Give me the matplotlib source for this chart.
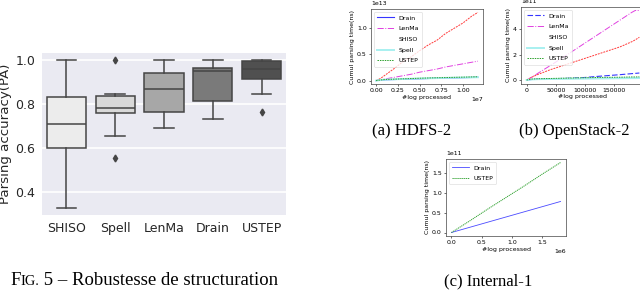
import numpy as np
import matplotlib
matplotlib.use("Agg")
import matplotlib.pyplot as plt

plt.rcParams['font.family'] = ['DejaVu Sans']

# box plot stats (parsing accuracy)
box_names = ["SHISO", "Spell", "LenMa", "Drain", "USTEP"]
box_whislo = [0.325, 0.655, 0.690, 0.733, 0.847]
box_q1 = [0.601, 0.758, 0.765, 0.813, 0.915]
box_med = [0.709, 0.783, 0.869, 0.952, 0.957]
box_q3 = [0.830, 0.835, 0.939, 0.966, 0.994]
box_whishi = [1.0, 0.845, 1.0, 1.0, 1.0]
box_fliers = [[], [1.0, 0.555], [], [], [0.765]]
box_colors = ['#ececec', '#d9d9d9', '#a7a7a7', '#7a7a7a', '#505050']

# HDFS-2 cumulative time
hdfs_x = np.array([0.0, 0.05, 0.1, 0.2, 0.3, 0.4, 0.5, 0.6, 0.7, 0.8, 0.9, 1.0, 1.1, 1.17]) * 1e7
hdfs_shiso = np.array([0, 0.04, 0.1, 0.22, 0.35, 0.45, 0.57, 0.68, 0.77, 0.9, 1.0, 1.1, 1.23, 1.3]) * 1e13
hdfs_lenma = np.array([0, 0.01, 0.03, 0.06, 0.09, 0.12, 0.16, 0.19, 0.22, 0.26, 0.29, 0.32, 0.35, 0.37]) * 1e13
hdfs_drain = np.array([0, 0.01, 0.015, 0.02, 0.025, 0.03, 0.035, 0.04, 0.045, 0.05, 0.052, 0.056, 0.06, 0.063]) * 1e13
hdfs_spell = np.array([0, 0.012, 0.018, 0.024, 0.03, 0.035, 0.04, 0.044, 0.048, 0.052, 0.055, 0.058, 0.061, 0.064]) * 1e13
hdfs_ustep = np.array([0, 0.012, 0.02, 0.027, 0.033, 0.039, 0.045, 0.05, 0.054, 0.058, 0.062, 0.066, 0.07, 0.073]) * 1e13
hdfs_xticks = [0, 0.25e7, 0.5e7, 0.75e7, 1.0e7]
hdfs_yticks = [0, 0.5e13, 1.0e13]

# OpenStack-2 cumulative time
os_x = np.array([0, 10, 20, 40, 60, 80, 100, 120, 140, 160, 180, 186, 193]) * 1e3
os_lenma = np.array([0, 0.25, 0.55, 1.12, 1.7, 2.3, 2.9, 3.5, 4.1, 4.7, 5.3, 5.45, 5.45]) * 1e11
os_shiso = np.array([0, 0.25, 0.45, 0.8, 1.1, 1.4, 1.7, 2.0, 2.3, 2.6, 3.0, 3.15, 3.35]) * 1e11
os_drain = np.array([0, 0.05, 0.08, 0.1, 0.12, 0.15, 0.2, 0.28, 0.35, 0.42, 0.5, 0.52, 0.55]) * 1e11
os_spell = np.array([0, 0.05, 0.07, 0.08, 0.09, 0.1, 0.11, 0.12, 0.13, 0.14, 0.15, 0.15, 0.16]) * 1e11
os_ustep = np.array([0, 0.08, 0.1, 0.12, 0.14, 0.16, 0.18, 0.2, 0.21, 0.22, 0.24, 0.24, 0.25]) * 1e11
os_xticks = [0, 50000, 100000, 150000]
os_yticks = [0, 2e11, 4e11]

# Internal-1 cumulative time
int_x = np.array([0, 0.3, 0.6, 0.9, 1.2, 1.5, 1.8]) * 1e6
int_drain = np.array([0, 0.13, 0.26, 0.39, 0.52, 0.65, 0.78]) * 1e11
int_ustep = np.array([0, 0.29, 0.59, 0.88, 1.17, 1.47, 1.76]) * 1e11
int_xticks = [0, 0.5e6, 1.0e6, 1.5e6]
int_yticks = [0, 0.5e11, 1.0e11, 1.5e11]

W, H = 640, 291
fig = plt.figure(figsize=(6.4, 2.91), dpi=100)

def rect(l, r, t, b):
    return [l / W, 1 - b / H, (r - l) / W, (b - t) / H]

# ---- box plot ----
ax = fig.add_axes(rect(42, 286, 53, 215))
ax.set_facecolor('#EAEAF2')
stats = []
for i in range(len(box_names)):
    stats.append(dict(label=box_names[i], whislo=box_whislo[i], q1=box_q1[i], med=box_med[i],
                      q3=box_q3[i], whishi=box_whishi[i], fliers=box_fliers[i]))
edge = '#454545'
bp = ax.bxp(stats, positions=range(5), widths=0.8, patch_artist=True,
            boxprops=dict(edgecolor=edge, linewidth=1.1),
            medianprops=dict(color=edge, linewidth=1.1),
            whiskerprops=dict(color=edge, linewidth=1.1),
            capprops=dict(color=edge, linewidth=1.1),
            flierprops=dict(marker='d', markerfacecolor=edge, markeredgecolor=edge, markersize=3.5))
for patch, c in zip(bp['boxes'], box_colors):
    patch.set_facecolor(c)
ax.set_xlim(-0.5, 4.5)
ax.set_ylim(0.295, 1.032)
ax.set_yticks([0.4, 0.6, 0.8, 1.0])
ax.yaxis.grid(True, color='white', linewidth=1.2)
ax.set_axisbelow(True)
for s in ax.spines.values():
    s.set_visible(False)
ax.tick_params(length=0, labelsize=9, pad=5, colors='#262626')
ax.set_ylabel('Parsing accuracy(PA)', fontsize=9.6, color='#262626', labelpad=2)

# ---- small line plots ----
fs = 4.5

def style_small(a, xt, yt):
    a.set_xticks(xt)
    a.set_yticks(yt)
    a.tick_params(labelsize=fs, length=1.5, width=0.4, pad=1.5)
    for s in a.spines.values():
        s.set_linewidth(0.5)
        s.set_color('#444444')
    a.yaxis.get_offset_text().set_fontsize(fs)
    a.xaxis.get_offset_text().set_fontsize(fs)
    a.set_xlabel('#log processed', fontsize=fs, labelpad=1)
    a.set_ylabel('Cumul parsing time(ns)', fontsize=fs, labelpad=1.5)

def legend_small(a, hide=None):
    leg = a.legend(loc='upper left', fontsize=fs, handlelength=2.6, labelspacing=0.85,
                   borderpad=0.5, frameon=True, edgecolor='#cccccc')
    leg.get_frame().set_linewidth(0.4)
    if hide is not None:
        for line, text in zip(leg.get_lines(), leg.get_texts()):
            if text.get_text() == hide:
                line.set_alpha(0)

a1 = fig.add_axes(rect(371, 483, 9, 84))
a1.plot(hdfs_x, hdfs_drain, color='#3535ff', lw=0.8, label='Drain')
a1.plot(hdfs_x, hdfs_lenma, color='#e040e0', lw=0.7, ls='-.', label='LenMa')
a1.plot(hdfs_x, hdfs_shiso, color='#ff3a3a', lw=0.7, ls=(0, (2, 1)), label='SHISO')
a1.plot(hdfs_x, hdfs_spell, color='#a8f0f0', lw=1.4, label='Spell')
a1.plot(hdfs_x, hdfs_ustep, color='#2ca02c', lw=0.7, ls=(0, (1.5, 1)), label='USTEP')
style_small(a1, hdfs_xticks, hdfs_yticks)
legend_small(a1, hide='SHISO')

a2 = fig.add_axes(rect(521, 645, 7, 83.5))
a2.plot(os_x, os_drain, color='#3535ff', lw=0.8, ls=(0, (5, 2)), label='Drain')
a2.plot(os_x, os_lenma, color='#e040e0', lw=0.7, ls='-.', label='LenMa')
a2.plot(os_x, os_shiso, color='#ff3a3a', lw=0.7, ls=(0, (2, 1)), label='SHISO')
a2.plot(os_x, os_spell, color='#a8f0f0', lw=1.4, label='Spell')
a2.plot(os_x, os_ustep, color='#2ca02c', lw=0.7, ls=(0, (1.5, 1)), label='USTEP')
style_small(a2, os_xticks, os_yticks)
legend_small(a2, hide='SHISO')

a3 = fig.add_axes(rect(446, 566, 159, 236))
a3.plot(int_x, int_drain, color='#4a4aff', lw=0.6, label='Drain')
a3.plot(int_x, int_ustep, color='#2ca02c', lw=0.7, ls=(0, (1.2, 0.8)), label='USTEP')
style_small(a3, int_xticks, int_yticks)
legend_small(a3)

# ---- captions ----
serif = ['Liberation Serif', 'DejaVu Serif']
fig.text(412 / W, 1 - 131 / H, '(a) HDFS-2', family=serif, fontsize=12, ha='center', va='center')
fig.text(574.5 / W, 1 - 131 / H, '(b) OpenStack-2', family=serif, fontsize=12, ha='center', va='center')
fig.text(488 / W, 1 - 281 / H, '(c) Internal-1', family=serif, fontsize=12, ha='center', va='center')

# FIG. 5 in small caps
renderer = fig.canvas.get_renderer()
x0 = 10 / W
ybase = 1 - 285 / H
parts = [('F', 13.5), ('IG.', 10.3), (' 5 \u2013 Robustesse de structuration', 13.5)]
for txt, size in parts:
    t = fig.text(x0, ybase, txt, family=serif, fontsize=size, ha='left', va='baseline')
    bb = t.get_window_extent(renderer)
    x0 += bb.width / W

fig.savefig('out.png', dpi=100)
